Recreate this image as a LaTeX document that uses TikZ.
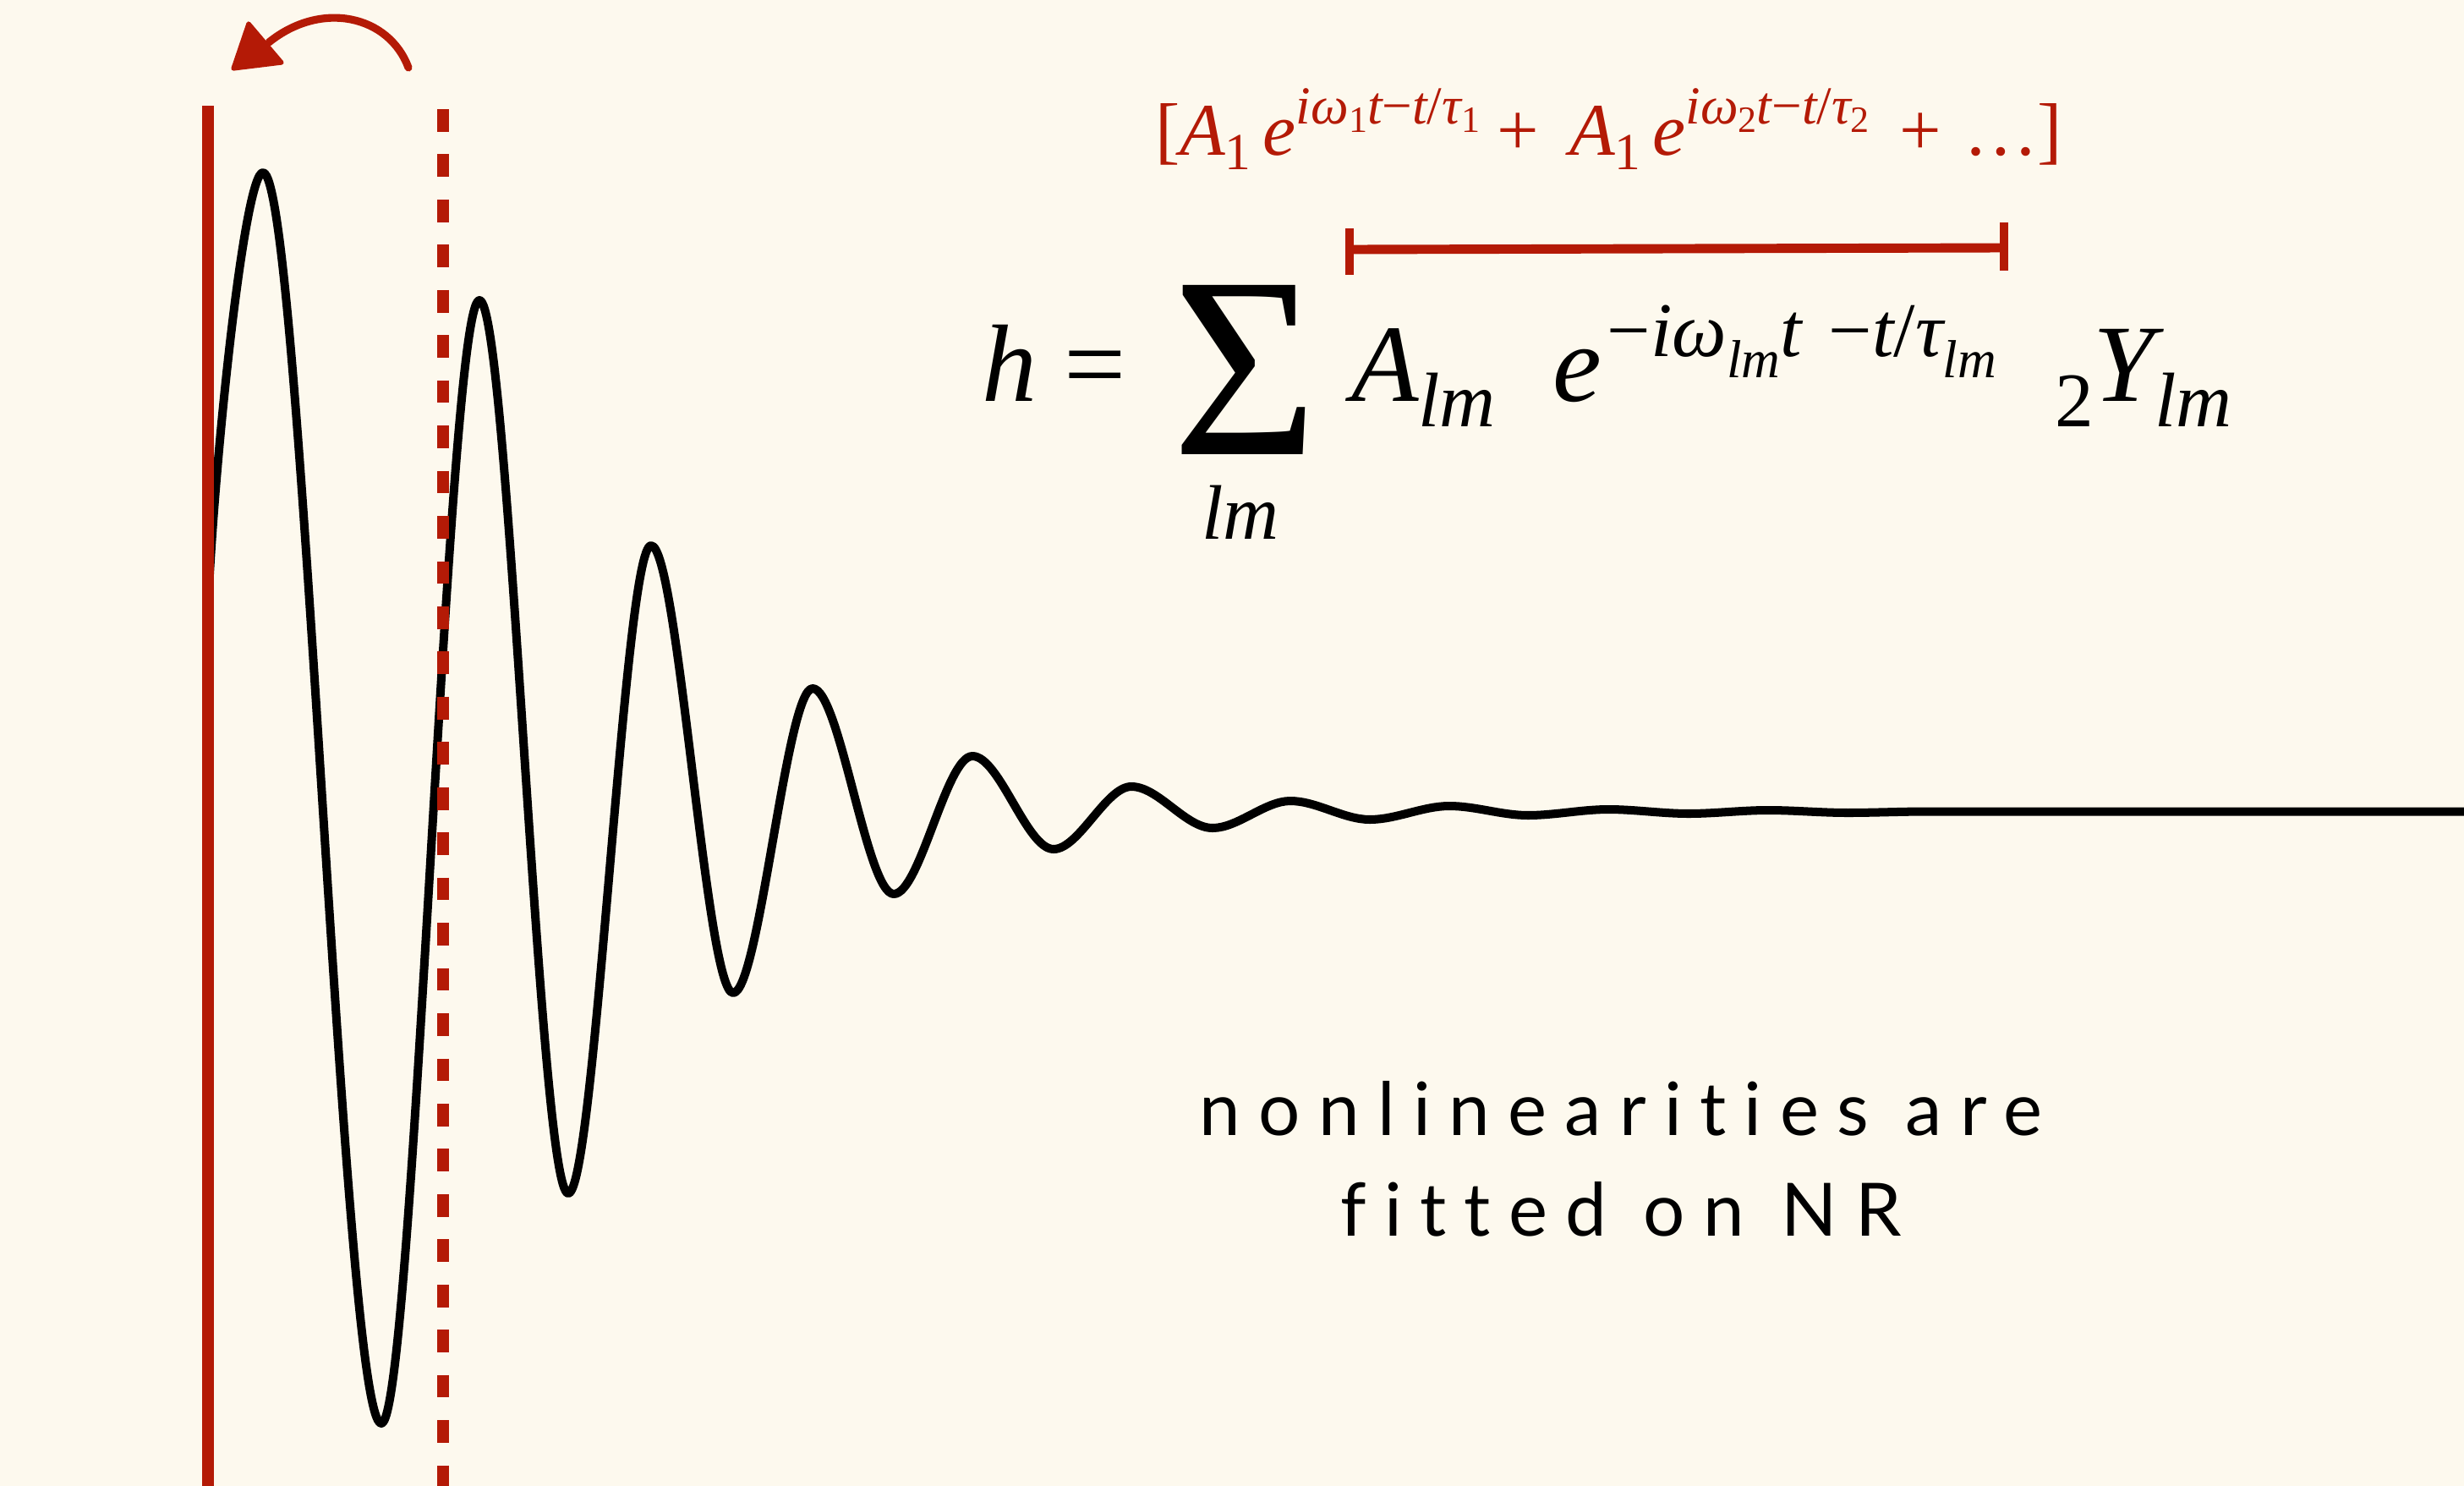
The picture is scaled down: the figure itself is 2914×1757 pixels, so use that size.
\documentclass[tikz,border=0pt]{standalone}
\usepackage{fontspec}
\usepackage{graphicx}
\newfontfamily\eqfont{Liberation Serif}
\newfontfamily\labelfont{Lato}[LetterSpace=24.5,Ligatures=NoCommon]
\definecolor{bgcream}{HTML}{FDF9EE}
\definecolor{ringred}{HTML}{B41A06}
\newcommand{\fsz}[1]{\fontsize{#1}{#1}\selectfont}
\newcommand{\lowr}[3]{\raisebox{#1}{\fsz{#2}#3}}
\tikzset{
  redsolid/.style={draw=ringred, line width=3.98pt},
  reddash/.style={draw=ringred, line width=3.98pt, dash pattern=on 7.6pt off 7.6pt},
  wave/.style={draw=black, line width=2.85pt, line join=round},
  sketch/.style={draw=ringred, line width=2.6pt, line cap=round},
  barline/.style={draw=ringred, line width=3.1pt},
  barend/.style={draw=ringred, line width=2.6pt},
  eqbig/.style={inner sep=0pt, outer sep=0pt, font=\eqfont\fsz{37}\itshape, anchor=base west},
  eqred/.style={inner sep=0pt, outer sep=0pt, text=ringred, font=\eqfont\fsz{25}\itshape, anchor=base west},
  caption/.style={inner sep=0pt, outer sep=0pt, font=\labelfont\fsz{24.75}, anchor=base}
}
\begin{document}
\begin{tikzpicture}[x=0.01cm, y=-0.01cm]
\useasboundingbox (0,0) rectangle (2914,1757);
\fill[bgcream] (0,0) rectangle (2914,1757);
% waveform
\draw[wave] (247,697) .. controls (256,520) and (290,204) .. (311,204)
  .. controls +(46,0) and +(-46,0) .. (451,1683)
  .. controls +(38,0) and +(-38,0) .. (567,355)
  .. controls +(35,0) and +(-35,0) .. (672,1411)
  .. controls +(32,0) and +(-32,0) .. (770,645)
  .. controls +(32,0) and +(-32,0) .. (867,1174)
  .. controls +(31,0) and +(-31,0) .. (961,814)
  .. controls +(32,0) and +(-32,0) .. (1057,1057)
  .. controls +(31,0) and +(-31,0) .. (1150,894)
  .. controls +(32,0) and +(-32,0) .. (1246,1004)
  .. controls +(30,0) and +(-30,0) .. (1338,930)
  .. controls +(32,0) and +(-32,0) .. (1434,979)
  .. controls +(30,0) and +(-30,0) .. (1526,947)
  .. controls +(31,0) and +(-31,0) .. (1620,969)
  .. controls +(31,0) and +(-31,0) .. (1714,953)
  .. controls +(31,0) and +(-31,0) .. (1807,964)
  .. controls +(31,0) and +(-31,0) .. (1902,957)
  .. controls +(31,0) and +(-31,0) .. (1997,962)
  .. controls +(31,0) and +(-31,0) .. (2091,958)
  .. controls +(31,0) and +(-31,0) .. (2185,961)
  .. controls +(31,0) and +(-31,0) .. (2280,959.5)
  -- (2914,959.5);
% vertical markers
\coordinate (solidTop) at (246,125);
\coordinate (solidBot) at (246,1757);
\coordinate (dashTop) at (524,129);
\coordinate (dashBot) at (524,1757);
\draw[redsolid] (solidTop) -- (solidBot);
\draw[reddash] (dashTop) -- (dashBot);
% curved arrow
\coordinate (arcS) at (483,80);
\coordinate (arcE) at (318,50);
\coordinate (headA) at (294,28);
\coordinate (headB) at (276,81);
\coordinate (headC) at (333,74);
\draw[sketch] (arcS) .. controls (460,18) and (380,0) .. (arcE);
\fill[ringred, draw=ringred, line width=1.5pt, line join=round] (headA) -- (headB) -- (headC) -- cycle;
% bar
\coordinate (barL) at (1596,295);
\coordinate (barR) at (2370,293);
\coordinate (barLt) at (1596,270);
\coordinate (barLb) at (1596,325);
\coordinate (barRt) at (2370,263);
\coordinate (barRb) at (2370,320);
\draw[barline] (barL) -- (barR);
\draw[barend] (barLt) -- (barLb);
\draw[barend] (barRt) -- (barRb);
% red formula
\node[eqred] (redA) at (1366,183) {{\upshape[}A\lowr{-5pt}{17.5}{\upshape 1}\hspace{4pt}e\lowr{10.5pt}{18}{iω\lowr{-3pt}{12.5}{\upshape 1}t{\upshape −}t{\upshape /}τ\lowr{-3pt}{12.5}{\upshape 1}}};
\node[eqred] (redP1) at (1770,183) {\upshape +};
\node[eqred] (redB) at (1856,183) {A\lowr{-5pt}{17.5}{\upshape 1}\hspace{4pt}e\lowr{10.5pt}{18}{iω\lowr{-3pt}{12.5}{\upshape 2}t{\upshape −}t{\upshape /}τ\lowr{-3pt}{12.5}{\upshape 2}}};
\node[eqred] (redP2) at (2246,183) {\upshape +};
\node[eqred] (redC) at (2322,183) {\upshape …]};
% main formula
\node[eqbig] (eqh) at (1161,474) {h};
\node[eqbig] (eqeq) at (1258,474) {\upshape =};
\node[inner sep=0pt, outer sep=0pt, font=\eqfont, anchor=base] (eqsig) at (1473,537) {\raisebox{0pt}[\height][0pt]{\resizebox{1.72cm}{2.0cm}{Σ}}};
\node[inner sep=0pt, outer sep=0pt, font=\eqfont\fsz{26}\itshape, anchor=base] (eqlim) at (1467,637) {lm};
\node[eqbig] (eqamp) at (1598,474) {A\lowr{-8.8pt}{26}{lm}};
\node[eqbig] (eqexp) at (1836,474) {e\hspace{2pt}\lowr{14.8pt}{26}{{\upshape −}iω\lowr{-7pt}{18}{lm}t\hspace{9pt}{\upshape −}t{\upshape /}τ\lowr{-7pt}{18}{lm}}};
\node[eqbig] (eqylm) at (2430,474) {\lowr{-8.8pt}{26}{\upshape 2}Y\lowr{-8.8pt}{26}{lm}};
% caption
\node[caption] (capA) at (1917,1342) {nonlinearities are};
\node[caption] (capB) at (1917,1461) {fitted on NR};
\end{tikzpicture}
\end{document}
